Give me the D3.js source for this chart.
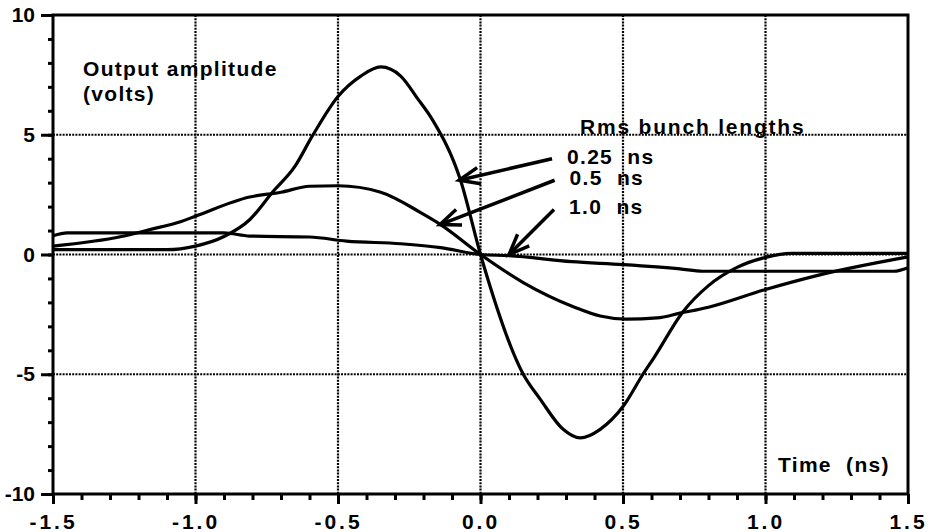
<!DOCTYPE html>
<html>
<head>
<meta charset="utf-8">
<script src="https://cdn.jsdelivr.net/npm/d3@7"></script>
<style>
  body { margin: 0; background: #fff; }
  text { font-family: "Liberation Sans", Arial, Helvetica, sans-serif; font-weight: bold; fill: #000; }
  .lbl { font-size: 21px; letter-spacing: 1.3px; white-space: pre; }
  .wide { letter-spacing: 1.8px; }
  .axis text { font-size: 21px; }
  .axis-x text { letter-spacing: 3px; }
</style>
</head>
<body>
<svg id="chart" width="932" height="532"></svg>
<script>
// [time ns, volts]
const bunch025 = [
  [-1.5, 0.2], [-1.3, 0.2], [-1.1, 0.2], [-1.0, 0.35], [-0.9, 0.75], [-0.81, 1.45],
  [-0.73, 2.6], [-0.65, 3.7], [-0.59, 4.95], [-0.5, 6.6], [-0.42, 7.45], [-0.35, 7.83],
  [-0.28, 7.45], [-0.22, 6.5], [-0.17, 5.65], [-0.07, 3.1], [0, 0], [0.15, -5.0],
  [0.21, -6.05], [0.29, -7.3], [0.35, -7.66], [0.42, -7.3], [0.5, -6.35], [0.57, -5.0],
  [0.61, -4.28], [0.71, -2.4], [0.8, -1.3], [0.9, -0.54], [1.0, -0.12], [1.09, 0.05],
  [1.5, 0.05]
];
const bunch05 = [
  [-1.5, 0.35], [-1.26, 0.75], [-1.16, 1.04], [-1.05, 1.38], [-1.0, 1.6], [-0.81, 2.4],
  [-0.7, 2.6], [-0.6, 2.85], [-0.5, 2.87], [-0.35, 2.6], [-0.21, 1.75], [-0.14, 1.25],
  [0, 0], [0.15, -1.17], [0.33, -2.2], [0.42, -2.57], [0.51, -2.7], [0.62, -2.65],
  [0.7, -2.45], [0.8, -2.2], [1.0, -1.46], [1.18, -0.88], [1.5, -0.1]
];
const bunch10 = [
  [-1.5, 0.78], [-1.45, 0.9], [-0.9, 0.9], [-0.81, 0.77], [-0.6, 0.73], [-0.47, 0.56],
  [-0.28, 0.45], [-0.14, 0.29], [0, 0], [0.1, -0.05], [0.32, -0.3], [0.5, -0.42],
  [0.7, -0.6], [0.78, -0.7], [1.45, -0.7], [1.5, -0.55]
];

const xTicks = [-1.5, -1.0, -0.5, 0.0, 0.5, 1.0, 1.5];
const yTicks = [-10, -5, 0, 5, 10];
const xMinor = d3.range(-15, 16).map(d => d / 10);
const yMinor = d3.range(-10, 11);

// arrows: label, tail [t, v], tip [t, v]
const arrows = [
  { label: "0.25  ns", tail: [0.251, 4.0], tip: [-0.075, 3.1] },
  { label: "0.5  ns", tail: [0.26, 3.1], tip: [-0.142, 1.25] },
  { label: "1.0  ns", tail: [0.258, 1.88], tip: [0.1, 0.0] }
];

let margin = { top: 15, right: 24, bottom: 38, left: 53 },
    width = 932 - margin.left - margin.right,
    height = 532 - margin.top - margin.bottom;

let chart = d3.select("#chart")
    .append("g")
    .attr("transform", "translate(" + margin.left + "," + margin.top + ")");

let xScale = d3.scaleLinear().domain([-1.5, 1.5]).range([0, width]);
let yScale = d3.scaleLinear().domain([-10, 10]).range([height, 0]);

// dotted grid
chart.append("g")
    .selectAll("line.gx")
    .data(xTicks.slice(1, -1))
    .join("line")
    .attr("x1", d => xScale(d)).attr("x2", d => xScale(d))
    .attr("y1", 0).attr("y2", height)
    .attr("stroke", "#000").attr("stroke-width", 2.2).attr("stroke-dasharray", "2 1.2");
chart.append("g")
    .selectAll("line.gy")
    .data(yTicks.slice(1, -1))
    .join("line")
    .attr("y1", d => yScale(d)).attr("y2", d => yScale(d))
    .attr("x1", 0).attr("x2", width)
    .attr("stroke", "#000").attr("stroke-width", 2.2).attr("stroke-dasharray", "2 1.2");

// minor ticks
chart.append("g")
    .attr("transform", "translate(0," + height + ")")
    .call(d3.axisBottom(xScale).tickValues(xMinor).tickSize(6).tickFormat(""))
    .call(g => g.select(".domain").remove())
    .selectAll("line").attr("stroke-width", 3);
chart.append("g")
    .call(d3.axisLeft(yScale).tickValues(yMinor).tickSize(5).tickFormat(""))
    .call(g => g.select(".domain").remove())
    .selectAll("line").attr("stroke-width", 3);

// major ticks + labels
chart.append("g")
    .attr("class", "axis axis-x")
    .attr("transform", "translate(0," + height + ")")
    .call(d3.axisBottom(xScale).tickValues(xTicks).tickSize(10).tickPadding(10)
        .tickFormat(d => d.toFixed(1)))
    .call(g => g.select(".domain").remove())
    .selectAll("line").attr("stroke-width", 3);
chart.append("g")
    .attr("class", "axis axis-y")
    .call(d3.axisLeft(yScale).tickValues(yTicks).tickSize(12).tickPadding(6)
        .tickFormat(d => String(d)))
    .call(g => g.select(".domain").remove())
    .selectAll("line").attr("stroke-width", 3);

// frame
chart.append("rect")
    .attr("x", 0).attr("y", 0)
    .attr("width", width).attr("height", height)
    .attr("fill", "none").attr("stroke", "#000").attr("stroke-width", 3);

// curves
let line = d3.line()
    .x(d => xScale(d[0]))
    .y(d => yScale(d[1]))
    .curve(d3.curveMonotoneX);

chart.selectAll("path.curve")
    .data([bunch025, bunch05, bunch10])
    .join("path")
    .attr("class", "curve")
    .attr("d", line)
    .attr("fill", "none")
    .attr("stroke", "#000")
    .attr("stroke-width", 3.2)
    .attr("stroke-linejoin", "round");

// annotation arrows
arrows.forEach(function (a) {
    let x0 = xScale(a.tail[0]), y0 = yScale(a.tail[1]);
    let x1 = xScale(a.tip[0]), y1 = yScale(a.tip[1]);
    let ang = Math.atan2(y0 - y1, x0 - x1);
    let len = 22, spread = 22 * Math.PI / 180;
    chart.append("line")
        .attr("x1", x0).attr("y1", y0).attr("x2", x1).attr("y2", y1)
        .attr("stroke", "#000").attr("stroke-width", 3.5);
    chart.append("path")
        .attr("d", "M" + (x1 + len * Math.cos(ang - spread)) + "," + (y1 + len * Math.sin(ang - spread)) +
            "L" + x1 + "," + y1 +
            "L" + (x1 + len * Math.cos(ang + spread)) + "," + (y1 + len * Math.sin(ang + spread)))
        .attr("fill", "none").attr("stroke", "#000").attr("stroke-width", 3.5)
        .attr("stroke-linejoin", "miter");
    chart.append("text")
        .attr("class", "lbl")
        .attr("x", x0 + 15)
        .attr("y", y0 + 5)
        .text(a.label);
});

// text labels
chart.append("text").attr("class", "lbl").attr("x", 30).attr("y", 61).text("Output amplitude");
chart.append("text").attr("class", "lbl").attr("x", 30).attr("y", 86).text("(volts)");
chart.append("text").attr("class", "lbl wide").attr("x", 527).attr("y", 119).text("Rms bunch lengths");
chart.append("text").attr("class", "lbl").attr("x", 725).attr("y", 457).text("Time  (ns)");
</script>
</body>
</html>
